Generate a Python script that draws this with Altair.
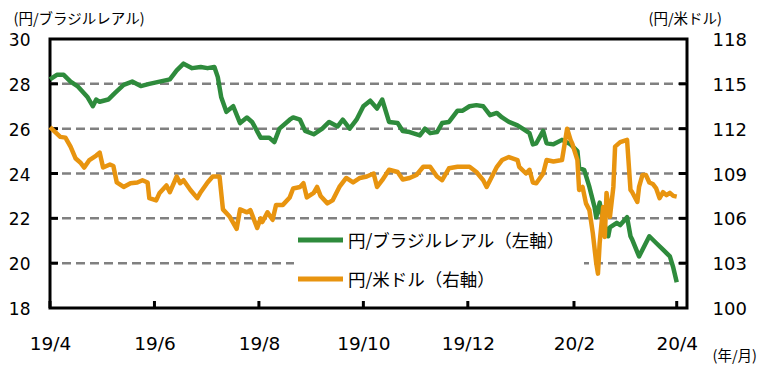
import altair as alt
import pandas as pd

SERIES = ["円/ブラジルレアル（左軸）", "円/米ドル（右軸）"]
COLORS = ["#2E8B3C", "#E8940F"]

START = "2019-04-01"
# day offsets from 2019-04-01 and values (JPY per BRL, left axis)
BRL_DAY = [0, 4, 8, 12, 16, 22, 25, 27, 29, 34,
           38, 43, 48, 53, 58, 64, 70, 74, 78, 83,
           88, 92, 96, 98, 100, 103, 107, 111, 115, 118,
           123, 128, 131, 134, 140, 142, 146, 149, 154, 159,
           163, 168, 171, 175, 179, 183, 187, 191, 194, 198,
           203, 206, 210, 216, 219, 222, 226, 229, 233, 238,
           241, 245, 249, 253, 257, 261, 264, 268, 273, 276,
           280, 282, 284, 288, 290, 294, 299, 304, 308, 309,
           312, 315, 318, 319, 321, 323, 326, 327, 331, 333,
           337, 339, 340, 344, 346, 350, 354, 358, 362, 364,
           366]
BRL_VAL = [28.2, 28.4, 28.4, 28.1, 27.9, 27.4, 27.0, 27.3, 27.2, 27.3,
           27.6, 27.95, 28.1, 27.9, 28.0, 28.1, 28.2, 28.6, 28.9, 28.7,
           28.75, 28.7, 28.75, 28.3, 27.4, 26.75, 27.0, 26.25, 26.5, 26.3,
           25.6, 25.6, 25.4, 26.0, 26.4, 26.5, 26.4, 25.9, 25.75, 26.0,
           26.3, 26.1, 26.4, 26.0, 26.4, 27.0, 27.25, 26.9, 27.3, 26.3,
           26.25, 25.9, 25.85, 25.7, 26.0, 25.8, 25.85, 26.25, 26.3, 26.8,
           26.8, 27.0, 27.05, 27.0, 26.6, 26.7, 26.5, 26.3, 26.15, 26.0,
           25.8, 25.3, 25.35, 25.9, 25.35, 25.3, 25.5, 25.3, 25.0, 24.25,
           24.15, 23.4, 22.5, 22.05, 22.7, 21.9, 21.2, 21.6, 21.8, 21.7,
           22.05, 21.2, 21.05, 20.3, 20.6, 21.2, 20.9, 20.6, 20.3, 19.8,
           19.15]

# JPY per USD, right axis
USD_DAY = [0, 6, 9, 12, 15, 18, 20, 23, 27, 29,
           31, 35, 37, 39, 43, 47, 51, 54, 57, 58,
           62, 64, 68, 70, 74, 76, 78, 82, 86, 88,
           92, 95, 99, 101, 105, 109, 111, 115, 117, 121,
           123, 124, 127, 130, 132, 136, 140, 142, 146, 148,
           150, 154, 156, 158, 162, 165, 169, 173, 177, 181,
           185, 189, 191, 194, 198, 203, 206, 210, 214, 218,
           222, 226, 229, 233, 238, 241, 245, 249, 253, 255,
           257, 261, 264, 268, 273, 274, 278, 280, 282, 284,
           288, 290, 294, 299, 302, 304, 305, 308, 309, 311,
           313, 315, 317, 319, 320, 321, 323, 324, 325, 327,
           329, 330, 333, 337, 339, 340, 343, 344, 346, 348,
           350, 352, 354, 356, 358, 360, 362, 364, 366]
USD_VAL = [112.1, 111.45, 111.4, 110.8, 110.0, 109.7, 109.4, 109.9, 110.2, 110.4,
           109.4, 109.6, 109.5, 108.4, 108.1, 108.35, 108.4, 108.55, 108.4, 107.35,
           107.2, 107.7, 108.2, 107.75, 108.8, 108.35, 108.55, 107.9, 107.35, 107.75,
           108.4, 108.8, 108.8, 106.6, 106.1, 105.3, 106.6, 106.4, 106.55, 105.35,
           106.0, 105.75, 106.4, 105.9, 106.9, 106.9, 107.4, 108.0, 108.1, 108.35,
           107.4, 107.7, 108.1, 107.5, 107.0, 107.2, 108.1, 108.7, 108.4, 108.7,
           108.8, 109.0, 108.1, 108.55, 109.25, 109.1, 108.6, 108.7, 108.9, 109.45,
           109.45, 108.8, 108.55, 109.35, 109.45, 109.45, 109.45, 109.1, 108.55, 108.1,
           108.55, 109.45, 109.9, 110.1, 109.9, 109.45, 109.0, 109.25, 108.4, 108.35,
           109.0, 109.9, 109.8, 109.9, 112.0, 111.25, 111.0, 109.9, 107.9, 108.1,
           107.0, 106.55, 105.0, 103.0, 102.3, 104.35, 106.75, 104.75, 107.7, 106.1,
           108.1, 110.8, 111.1, 111.25, 107.9, 107.75, 107.1, 108.1, 108.9, 108.9,
           108.4, 108.3, 108.0, 107.35, 107.75, 107.55, 107.7, 107.5, 107.45]

LEFT_TICKS = [18, 20, 22, 24, 26, 28, 30]
RIGHT_TICKS = [100, 103, 106, 109, 112, 115, 118]
GRID_VALUES = [20, 22, 24, 26, 28]
X_TICKS = [(2019, 4), (2019, 6), (2019, 8), (2019, 10), (2019, 12), (2020, 2), (2020, 4)]
X_END = (2020, 4, 7)

W, H = 637, 269
GREEN, ORANGE = COLORS

base = pd.Timestamp(START)
brl_df = pd.DataFrame({"date": base + pd.to_timedelta(BRL_DAY, unit="D"), "value": BRL_VAL})
usd_df = pd.DataFrame({"date": base + pd.to_timedelta(USD_DAY, unit="D"), "value": USD_VAL})
grid_df = pd.DataFrame({"value": GRID_VALUES})
xtick_df = pd.DataFrame({"date": [pd.Timestamp(year=y, month=m, day=1) for y, m in X_TICKS]})

x_scale = alt.Scale(domain=[alt.DateTime(year=X_TICKS[0][0], month=X_TICKS[0][1], date=1),
                            alt.DateTime(year=X_END[0], month=X_END[1], date=X_END[2])])
x_axis = alt.Axis(values=[alt.DateTime(year=y, month=m, date=1) for y, m in X_TICKS],
                  format="%y/%-m", formatType="time", title="(年/月)",
                  titleAngle=0, titleAlign="left", titleBaseline="middle",
                  titleX=662, titleY=48, labelPadding=26, labelFontSize=18.5,
                  ticks=False, tickSize=0,
                  domain=False, grid=False, labelFlush=False, labelOverlap=False)

yl_scale = alt.Scale(domain=[LEFT_TICKS[0], LEFT_TICKS[-1]], nice=False, zero=False)
yl_axis = alt.Axis(values=LEFT_TICKS, title="(円/ブラジルレアル)", titleAngle=0,
                   titleAlign="left", titleBaseline="middle", titleX=-37, titleY=-20,
                   labelPadding=20, labelOffset=1.5, labelFontSize=17,
                   ticks=False, tickSize=0, domain=False,
                   grid=False, labelFlush=False, labelOverlap=False, orient="left")
yr_scale = alt.Scale(domain=[RIGHT_TICKS[0], RIGHT_TICKS[-1]], nice=False, zero=False)
yr_axis = alt.Axis(values=RIGHT_TICKS, title="(円/米ドル)", titleAngle=0,
                   titleAlign="left", titleBaseline="middle", titleX=-39, titleY=-20,
                   labelPadding=25, labelOffset=1.5, ticks=False, tickSize=0, domain=False,
                   grid=False, labelFlush=False, labelOverlap=False, orient="right")

grid = alt.Chart(grid_df).mark_rule(color="#808080", strokeWidth=2.5, strokeDash=[9, 5]).encode(
    y=alt.Y("value:Q", scale=yl_scale, axis=yl_axis))

one = pd.DataFrame({"k": [0]})
legend_box = alt.Chart(one).mark_rect(fill="white").encode(
    x=alt.value(244), x2=alt.value(534), y=alt.value(183), y2=alt.value(262))

legend_layers = []
for i, (name, col) in enumerate(zip(SERIES, COLORS)):
    yy = 201 + 39 * i
    d = pd.DataFrame({"series": [name]})
    legend_layers.append(alt.Chart(d).mark_rule(color=col, strokeWidth=5).encode(
        x=alt.value(248), x2=alt.value(293), y=alt.value(yy)))
    legend_layers.append(alt.Chart(d).mark_text(
        align="left", baseline="middle", font="Noto Sans CJK JP", fontSize=17.5, color="black").encode(
        text="series:N", x=alt.value(298), y=alt.value(yy + 2)))

green = alt.Chart(brl_df).mark_line(color=GREEN, strokeWidth=4.5, strokeJoin="round").encode(
    x=alt.X("date:T", scale=x_scale, axis=x_axis),
    y=alt.Y("value:Q", scale=yl_scale, axis=yl_axis))

tick_l = alt.Chart(grid_df).mark_rule(color="black", strokeWidth=3).encode(
    y=alt.Y("value:Q", scale=yl_scale, axis=yl_axis), x=alt.value(0), x2=alt.value(8))
tick_r = alt.Chart(grid_df).mark_rule(color="black", strokeWidth=3).encode(
    y=alt.Y("value:Q", scale=yl_scale, axis=yl_axis), x=alt.value(W - 8), x2=alt.value(W))
tick_x = alt.Chart(xtick_df).mark_rule(color="black", strokeWidth=3).encode(
    x=alt.X("date:T", scale=x_scale, axis=x_axis), y=alt.value(H - 7), y2=alt.value(H))

left = alt.layer(grid, legend_box, *legend_layers, green, tick_l, tick_r, tick_x)

orange = alt.Chart(usd_df).mark_line(color=ORANGE, strokeWidth=4.5, strokeJoin="round").encode(
    x=alt.X("date:T", scale=x_scale, axis=x_axis),
    y=alt.Y("value:Q", scale=yr_scale, axis=yr_axis))

chart = alt.layer(left, orange).resolve_scale(y="independent").properties(
    width=W, height=H,
    autosize=alt.AutoSizeParams(type="none"),
    padding={"left": 42, "top": 31, "right": 81, "bottom": 62},
    background="white",
).configure_view(stroke="black", strokeWidth=3).configure_axis(
    labelFont="DejaVu Sans", labelFontSize=18, labelColor="black",
    titleFont="Noto Sans CJK JP", titleFontSize=14.5, titleFontWeight="normal", titleColor="black",
)

chart.save("out.html", embed_options={"renderer": "svg", "actions": False})
